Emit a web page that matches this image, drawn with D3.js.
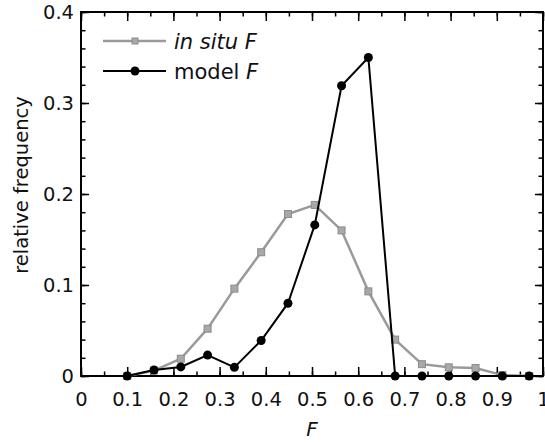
<!DOCTYPE html>
<html>
<head>
<meta charset="utf-8">
<script src="https://cdn.jsdelivr.net/npm/d3@7"></script>
<style>
  body { margin: 0; background: #fff; }
  svg { display: block; font-family: "DejaVu Sans", sans-serif; }
</style>
</head>
<body>
<div id="chart"></div>
<script>
// bin centres (F) and relative frequencies
const binF = [0.1, 0.158, 0.216, 0.274, 0.332, 0.39, 0.448, 0.506, 0.564, 0.622, 0.68, 0.738, 0.796, 0.854, 0.912, 0.97];
const inSitu = [0, 0.006, 0.019, 0.052, 0.096, 0.136, 0.178, 0.188, 0.160, 0.093, 0.040, 0.013, 0.0095, 0.0088, 0.001, 0];
const model  = [0, 0.0066, 0.010, 0.023, 0.0095, 0.039, 0.080, 0.166, 0.319, 0.350, 0, 0, 0, 0, 0, 0];
const xTicks = [0, 0.1, 0.2, 0.3, 0.4, 0.5, 0.6, 0.7, 0.8, 0.9, 1];
const yTicks = [0, 0.1, 0.2, 0.3, 0.4];

(function () {
  const W = 545, H = 444;
  const margin = { top: 12, right: 2, bottom: 68, left: 81 };
  const width = W - margin.left - margin.right;
  const height = H - margin.top - margin.bottom;

  const x = d3.scaleLinear().domain([0, 1]).range([0, width]);
  const y = d3.scaleLinear().domain([0, 0.4]).range([height, 0]);

  const svg = d3.select("#chart").append("svg")
    .attr("width", W).attr("height", H);
  const g = svg.append("g").attr("transform", `translate(${margin.left},${margin.top})`);

  const xMinor = d3.range(0, 1.0001, 0.05);
  const yMinor = d3.range(0, 0.4001, 0.02);
  const fmt = d => d === 0 ? "0" : d === 1 ? "1" : d3.format(".1f")(d);

  // minor ticks (inward on all four sides)
  function minorAxis(axis, tr) {
    const a = g.append("g").attr("transform", tr).call(axis);
    a.selectAll("text").remove();
    a.select(".domain").remove();
    a.selectAll("line").attr("stroke", "#000").attr("stroke-width", 1.5);
  }
  minorAxis(d3.axisBottom(x).tickValues(xMinor).tickSize(-4.5), `translate(0,${height})`);
  minorAxis(d3.axisTop(x).tickValues(xMinor).tickSize(-4.5), "translate(0,0)");
  minorAxis(d3.axisLeft(y).tickValues(yMinor).tickSize(-4.5), "translate(0,0)");
  minorAxis(d3.axisRight(y).tickValues(yMinor).tickSize(-4.5), `translate(${width},0)`);

  // major ticks with labels
  const xAx = g.append("g").attr("transform", `translate(0,${height})`)
    .call(d3.axisBottom(x).tickValues(xTicks).tickFormat(fmt).tickSize(-9).tickPadding(16));
  const yAx = g.append("g")
    .call(d3.axisLeft(y).tickValues(yTicks).tickFormat(fmt).tickSize(-8).tickPadding(7));
  const xTop = g.append("g").call(d3.axisTop(x).tickValues(xTicks).tickSize(-9).tickFormat(""));
  const yRight = g.append("g").attr("transform", `translate(${width},0)`)
    .call(d3.axisRight(y).tickValues(yTicks).tickSize(-8).tickFormat(""));
  [xAx, yAx, xTop, yRight].forEach(a => {
    a.select(".domain").remove();
    a.selectAll("line").attr("stroke", "#000").attr("stroke-width", 1.5);
    a.attr("font-family", null).attr("font-size", 19.5);
    a.selectAll("text").attr("fill", "#111");
  });
  xAx.selectAll("text").attr("dy", "0.71em");

  // frame
  g.append("rect").attr("width", width).attr("height", height)
    .attr("fill", "none").attr("stroke", "#000").attr("stroke-width", 2);

  const line = d3.line().x(d => x(d[0])).y(d => y(d[1]));
  const inSituPts = binF.map((f, i) => [f, inSitu[i]]);
  const modelPts = binF.map((f, i) => [f, model[i]]);

  const GRAY = "#9a9a9a";

  // in situ F
  g.append("path").datum(inSituPts).attr("d", line)
    .attr("fill", "none").attr("stroke", GRAY).attr("stroke-width", 2.5);
  g.selectAll(".sq").data(inSituPts).join("rect")
    .attr("x", d => x(d[0]) - 3.5).attr("y", d => y(d[1]) - 3.5)
    .attr("width", 7).attr("height", 7)
    .attr("fill", "#a8a8a8").attr("stroke", "#8c8c8c").attr("stroke-width", 1);

  // model F
  g.append("path").datum(modelPts).attr("d", line)
    .attr("fill", "none").attr("stroke", "#000").attr("stroke-width", 2);
  g.selectAll(".dot").data(modelPts).join("circle")
    .attr("cx", d => x(d[0])).attr("cy", d => y(d[1])).attr("r", 4.5)
    .attr("fill", "#000");

  // legend
  const leg = svg.append("g");
  const items = [
    { label: "in situ ", italicAll: true, color: GRAY, marker: "sq", y: 41 },
    { label: "model ", italicAll: false, color: "#000", marker: "dot", y: 71 }
  ];
  items.forEach(it => {
    leg.append("line").attr("x1", 103).attr("x2", 166).attr("y1", it.y).attr("y2", it.y)
      .attr("stroke", it.color).attr("stroke-width", it.marker === "sq" ? 2.5 : 2);
    if (it.marker === "sq") {
      leg.append("rect").attr("x", 132).attr("y", it.y - 3).attr("width", 6).attr("height", 6)
        .attr("fill", "#a8a8a8").attr("stroke", "#8c8c8c");
    } else {
      leg.append("circle").attr("cx", 135).attr("cy", it.y).attr("r", 4.5).attr("fill", "#000");
    }
    const t = leg.append("text").attr("x", 174).attr("y", it.y + 7.5)
      .attr("font-size", 21).attr("fill", "#111");
    t.append("tspan").attr("font-style", it.italicAll ? "italic" : "normal").text(it.label);
    t.append("tspan").attr("font-style", "italic").text("F");
  });

  // axis titles
  svg.append("text").attr("x", margin.left + x(0.5)).attr("y", 436)
    .attr("text-anchor", "middle").attr("font-size", 20).attr("font-style", "italic")
    .attr("fill", "#111").text("F");
  svg.append("text")
    .attr("transform", `translate(28,185) rotate(-90)`)
    .attr("text-anchor", "middle").attr("font-size", 19.5).attr("fill", "#111")
    .text("relative frequency");
})();
</script>
</body>
</html>
